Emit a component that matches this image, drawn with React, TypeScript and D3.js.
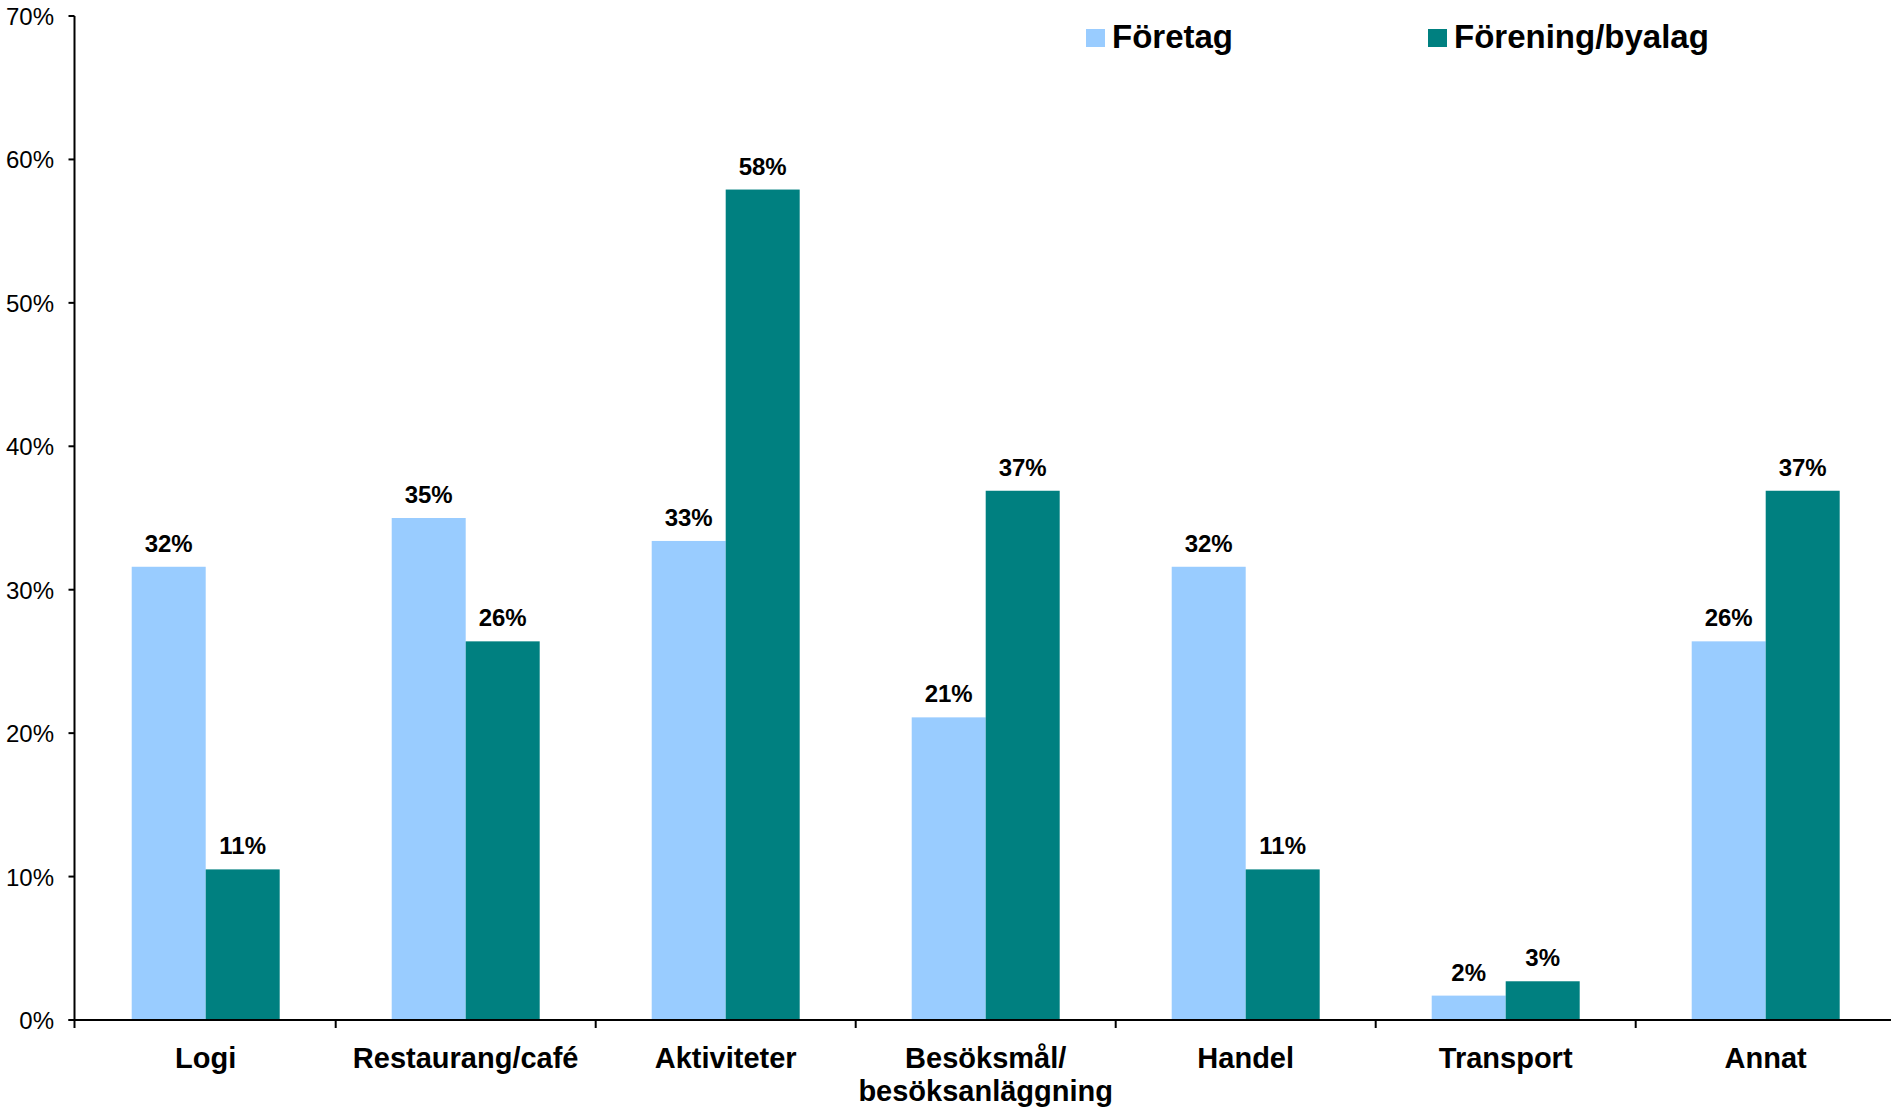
import React from "react";
import * as d3 from "d3";

const categories: string[][] = [
  ["Logi"],
  ["Restaurang/café"],
  ["Aktiviteter"],
  ["Besöksmål/", "besöksanläggning"],
  ["Handel"],
  ["Transport"],
  ["Annat"],
];
const seriesNames = ["Företag", "Förening/byalag"];
const foretag = [31.6, 35.0, 33.4, 21.1, 31.6, 1.7, 26.4];
const forening = [10.5, 26.4, 57.9, 36.9, 10.5, 2.7, 36.9];
const yTicks = [0, 10, 20, 30, 40, 50, 60, 70];
const colors = ["#99CCFF", "#008080"];

const W = 1891;
const H = 1110;
const axisX = 74.5;
const x0 = 75.7;
const xEnd = x0 + 7 * 260;
const yBottom = 1020;
const yTop = 16;

export default function App() {
  const keys = categories.map((c) => c.join(" "));
  const x = d3.scaleBand<string>().domain(keys).range([x0, xEnd]).padding(0);
  const bw = x.bandwidth();
  const xs = d3
    .scaleBand<string>()
    .domain(seriesNames)
    .range([bw * 0.2154, bw * 0.7846])
    .padding(0);
  const y = d3.scaleLinear().domain([0, 70]).range([yBottom, yTop]);
  const data = [foretag, forening];
  const font = "'Liberation Sans', Arial, sans-serif";

  return (
    <svg
      width={W}
      height={H}
      style={{ position: "absolute", left: 0, top: 0, background: "#fff" }}
      fontFamily={font}
    >
      {/* bars */}
      {keys.map((k, i) =>
        seriesNames.map((s, j) => {
          const v = data[j][i];
          const bx = (x(k) as number) + (xs(s) as number);
          return (
            <g key={k + s}>
              <rect
                x={bx}
                y={y(v)}
                width={xs.bandwidth()}
                height={yBottom - y(v)}
                fill={colors[j]}
              />
              <text
                x={bx + xs.bandwidth() / 2}
                y={y(v) - 15}
                textAnchor="middle"
                fontSize={24}
                fontWeight="bold"
                fill="#000"
              >
                {Math.round(v) + "%"}
              </text>
            </g>
          );
        })
      )}
      {/* y axis */}
      <line x1={axisX} x2={axisX} y1={yTop} y2={yBottom} stroke="#000" strokeWidth={2} />
      {yTicks.map((t) => (
        <g key={t}>
          <line x1={axisX - 6} x2={axisX} y1={y(t)} y2={y(t)} stroke="#000" strokeWidth={2} />
          <text x={54} y={y(t) + 9} textAnchor="end" fontSize={24} fill="#000">
            {t + "%"}
          </text>
        </g>
      ))}
      {/* x axis */}
      <line x1={axisX - 6} x2={W} y1={yBottom} y2={yBottom} stroke="#000" strokeWidth={2} />
      {keys.slice(1).map((k) => (
        <line
          key={"t" + k}
          x1={x(k) as number}
          x2={x(k) as number}
          y1={yBottom}
          y2={yBottom + 8}
          stroke="#000"
          strokeWidth={2}
        />
      ))}
      <line x1={axisX} x2={axisX} y1={yBottom} y2={yBottom + 8} stroke="#000" strokeWidth={2} />
      {categories.map((lines, i) => (
        <text
          key={"c" + i}
          x={(x(keys[i]) as number) + bw / 2}
          y={yBottom + 48}
          textAnchor="middle"
          fontSize={29}
          fontWeight="bold"
          fill="#000"
        >
          {lines.map((l, li) => (
            <tspan key={li} x={(x(keys[i]) as number) + bw / 2} dy={li === 0 ? 0 : 33}>
              {l}
            </tspan>
          ))}
        </text>
      ))}
      {/* legend */}
      {seriesNames.map((s, j) => {
        const lx = j === 0 ? 1086 : 1428;
        return (
          <g key={"lg" + s}>
            <rect x={lx} y={29} width={19} height={18} fill={colors[j]} />
            <text x={lx + 26} y={48} fontSize={33} fontWeight="bold" fill="#000">
              {s}
            </text>
          </g>
        );
      })}
    </svg>
  );
}
